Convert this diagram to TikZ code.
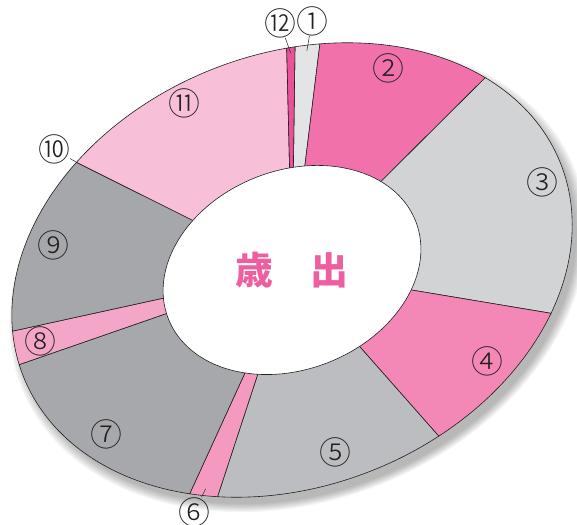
\documentclass[tikz,border=0pt]{standalone}
\usepackage{fontspec}
\newfontfamily\jpfont{Noto Sans CJK JP}
\newfontfamily\numfont{Noto Sans CJK JP}[UprightFont=* Light]
\definecolor{c1}{RGB}{227,228,230}
\definecolor{c2}{RGB}{241,114,170}
\definecolor{c3}{RGB}{209,211,213}
\definecolor{c4}{RGB}{243,135,182}
\definecolor{c5}{RGB}{188,189,192}
\definecolor{c6}{RGB}{244,154,193}
\definecolor{c7}{RGB}{167,168,171}
\definecolor{c8}{RGB}{244,166,200}
\definecolor{c9}{RGB}{166,167,170}
\definecolor{c11}{RGB}{247,191,216}
\definecolor{c12}{RGB}{233,82,152}
\definecolor{titlepink}{RGB}{238,95,160}
\definecolor{edge}{RGB}{35,31,32}
\tikzstyle{sector}=[draw=edge, line width=0.6pt, line join=round]
\tikzstyle{num}=[font=\numfont\fontsize{32}{32}\selectfont, text=edge, inner sep=0pt]
\tikzstyle{leader}=[draw=edge, line width=0.5pt]
\tikzstyle{title}=[font=\jpfont\bfseries\fontsize{38}{38}\selectfont, text=titlepink, inner sep=0pt]

\begin{document}
\begin{tikzpicture}[x=1bp, y=1bp]
  \useasboundingbox (0,0) rectangle (577,525);

  % soft shadow
  \begin{scope}[shift={(298,247)}, rotate=21.6, xscale=289, yscale=216]
    \foreach \r in {1.03,1.025,...,0.99}
      \fill[black, opacity=0.04] (0,0) circle[radius=\r];
  \end{scope}

  % ring
  \begin{scope}[shift={(292,255)}, rotate=21.6, xscale=289, yscale=216]
    \foreach \a/\b/\c in {72.9/67.8/c1, 67.8/29.9/c2, 29.9/-38.9/c3, 321.1/285.1/c4,
                          285.1/238.1/c5, 238.1/232.1/c6, 232.1/176.7/c7, 176.7/167.7/c8,
                          167.7/123.8/c9, 123.8/74.6/c11, 74.6/72.9/c12}
      \filldraw[sector, fill=\c] (0,0) -- (\a:1) arc[start angle=\a, end angle=\b, radius=1] -- cycle;
    \filldraw[sector, fill=white] (0,0) circle[radius=0.46];
    \coordinate (e1) at (70.4:0.975);
    \coordinate (e12) at (73.8:0.975);
    \coordinate (e6) at (235:0.97);
    \coordinate (e10) at (123.8:1);
  \end{scope}

  \node[title] (T) at (292,255) {歳　出};

  \foreach \name/\lbl/\x/\y in {1/①/312/504, 2/②/388/457, 3/③/542/343, 4/④/487/164,
                                5/⑤/335/73, 6/⑥/194/13, 7/⑦/106/91, 8/⑧/40/184,
                                9/⑨/53/280, 10/⑩/54/376, 11/⑪/184/422, 12/⑫/280/502}
    \node[num] (L-\name) at (\x,\y) {\lbl};

  \draw[leader] (L-1) -- (e1);
  \draw[leader] (L-12) -- (e12);
  \draw[leader] (L-6) -- (e6);
  \draw[leader] (L-10) -- (e10);
\end{tikzpicture}
\end{document}
